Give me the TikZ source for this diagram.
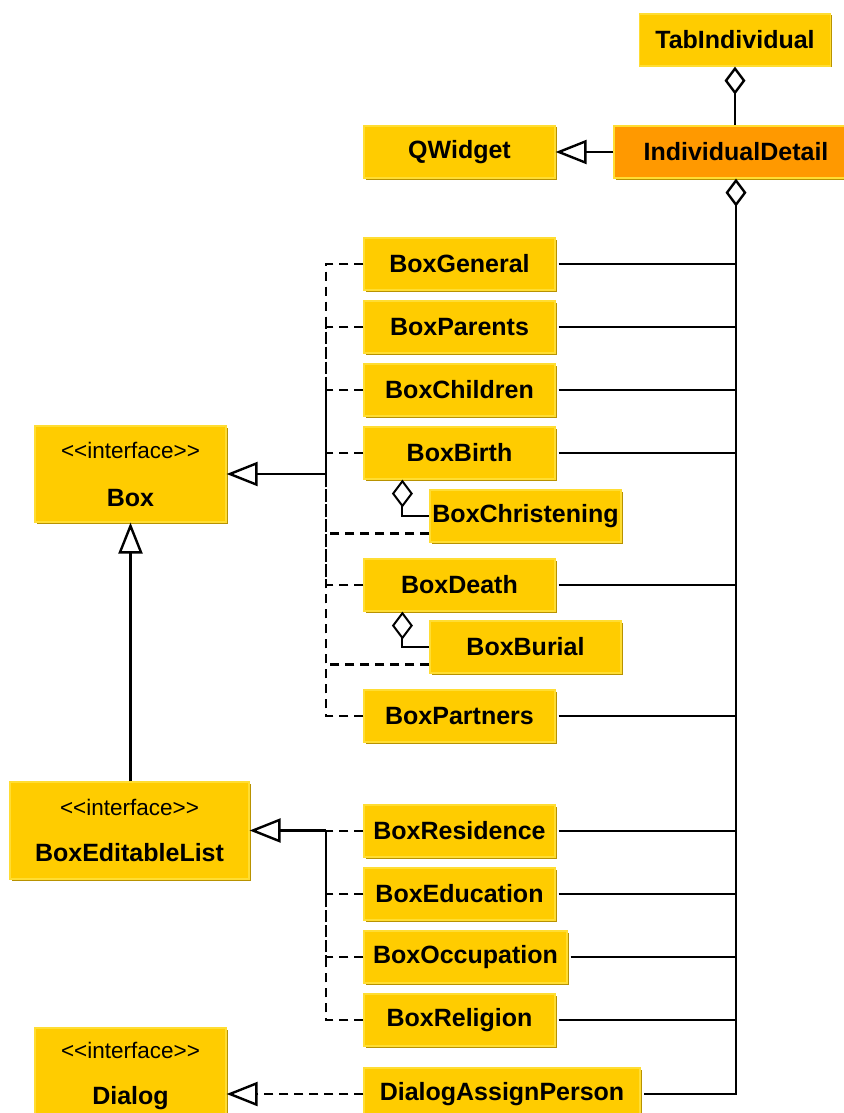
\documentclass[tikz,border=0pt]{standalone}
\usepackage{fontspec}
\setmainfont{Liberation Sans}
\usetikzlibrary{arrows.meta,shadows}

\definecolor{clsfill}{HTML}{FFCC00}
\definecolor{clsmain}{HTML}{FF9900}
\definecolor{clsedge}{HTML}{FFDD33}
\definecolor{clsshadow}{HTML}{B89200}
\newcommand{\stereo}[1]{\normalfont\fontsize{22.5}{28}\selectfont<{}<#1>{}>}

\begin{document}
\begin{tikzpicture}[x=1pt,y=-1pt,
        cls/.style={draw=clsedge, fill=clsfill, line width=1.2pt,
            drop shadow={shadow xshift=1.5pt, shadow yshift=-1.5pt, fill=clsshadow, opacity=1},
            minimum width=191pt, minimum height=52pt, inner sep=0pt,
            font=\bfseries\fontsize{25}{28}\selectfont},
        iface/.style={cls, minimum height=96pt, align=center},
        conn/.style={line width=2.4pt},
        aggr/.style={conn, {Diamond[open,length=28pt,width=21pt]}-},
        realize/.style={conn, -{Triangle[open,length=31pt,width=24pt]}},
        impl/.style={conn, dash pattern=on 9pt off 6pt}
    ]
    \useasboundingbox (0,0) rectangle (843,1113);

    % classes
    \node[cls] (tab) at (735,40) {TabIndividual};
    \node[cls, fill=clsmain, minimum width=244pt] (detail) at (736,152) {IndividualDetail};
    \node[cls] (qwidget) at (459.5,152) {QWidget};
    \foreach \n/\t/\y in {general/BoxGeneral/264, parents/BoxParents/327,
            children/BoxChildren/390, birth/BoxBirth/453, death/BoxDeath/585,
            partners/BoxPartners/716, residence/BoxResidence/831,
            education/BoxEducation/894, religion/BoxReligion/1020}
        \node[cls] (\n) at (459.5,\y) {\t};
    \node[cls] (christening) at (525.5,516) {BoxChristening};
    \node[cls] (burial) at (525.5,647) {BoxBurial};
    \node[cls, minimum width=203pt] (occupation) at (465.5,957) {BoxOccupation};
    \node[cls, minimum width=276pt] (dlgassign) at (502,1094) {DialogAssignPerson};

    % interfaces
    \node[iface] (box) at (130.5,474) {{\stereo{interface}}\\[20pt]Box};
    \node[iface, minimum width=239pt, minimum height=97pt] (editlist) at (129.5,830.5)
        {{\stereo{interface}}\\[18pt]BoxEditableList};
    \node[iface] (dialog) at (130.5,1076) {{\stereo{interface}}\\[18pt]Dialog};

    % aggregation
    \draw[aggr] (tab.south) -- (tab.south |- detail.north);
    \draw[aggr] (detail.south) |- ([xshift=3pt]dlgassign.east);
    \foreach \n in {general,parents,children,birth,death,partners,
            residence,education,occupation,religion}
        \draw[conn] ([xshift=3pt]\n.east) -- (\n.east -| detail.south);
    \draw[aggr, line width=2pt] ([xshift=39pt]birth.south west) |- (christening.west);
    \draw[aggr, line width=2pt] ([xshift=39pt]death.south west) |- (burial.west);

    % generalisation / realisation
    \draw[realize] (detail.west) -- (qwidget.east);
    \coordinate (boxjoin) at (326,474);
    \draw[realize] (boxjoin) -- (box.east);
    \foreach \n in {general,parents,children,birth,death,partners}
        \draw[impl] (\n.west) -| (boxjoin);
    \draw[impl] ([yshift=9pt]christening.south west) -| (boxjoin);
    \draw[impl] ([yshift=9pt]burial.south west) -| (boxjoin);

    \coordinate (editjoin) at (326,830.5);
    \draw[realize] (editjoin) -- (editlist.east);
    \foreach \n in {residence,education,occupation,religion}
        \draw[impl] (\n.west) -| (editjoin);
    \draw[realize] (box.south |- editlist.north) -- (box.south);

    \draw[realize, impl] (dlgassign.west) -- (dialog.east |- dlgassign.west);
\end{tikzpicture}
\end{document}
